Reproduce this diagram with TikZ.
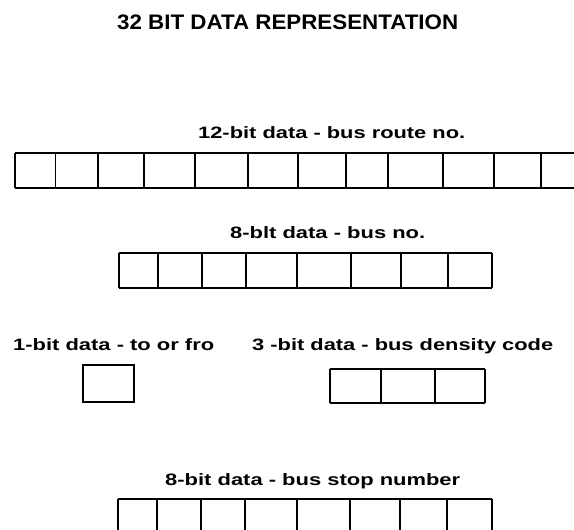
\documentclass[tikz,border=0pt]{standalone}
\usepackage{fontspec}
\setmainfont{Liberation Sans}
\newcommand\fitw[2]{\resizebox{#1}{\height}{#2}}
\begin{document}
\begin{tikzpicture}[x=1pt,y=-1pt,
  grid/.style={draw=black,line width=1.1pt},
  heavy/.style={draw=black,line width=2pt},
  lbl/.style={anchor=base west,inner sep=0pt,font=\bfseries\fontsize{16.5}{18}\selectfont},
  ttl/.style={anchor=base west,inner sep=0pt,font=\bfseries\fontsize{21}{24}\selectfont}]
\useasboundingbox[fill=white] (0,0) rectangle (574,530);

% heading
\node[ttl] (title) at (117,30) {\fitw{341pt}{32 BIT DATA REPRESENTATION}};

% 12-bit field
\node[lbl] (l12) at (198,138) {\fitw{267pt}{12-bit data - bus route no.}};
\draw[grid] (15,153) -- (574,153) (15,188) -- (574,188);
\foreach \x in {15,55.5,98,144,195,248,298,346,388,443,494,541}
  \draw[grid] (\x,153) -- (\x,188);
\draw[heavy] (144,188) -- (248,188) (388,188) -- (443,188);

% 8-bit bus number field
\node[lbl] (l8a) at (230,238) {\fitw{195pt}{8-blt data - bus no.}};
\draw[grid] (119,253) -- (492,253) (119,288) -- (492,288);
\foreach \x in {119,158,202,246,297,351,401,448,492}
  \draw[grid] (\x,253) -- (\x,288);
\draw[heavy] (246,288) -- (351,288);

% 1-bit direction and 3-bit density fields
\node[lbl] (l1) at (13,350) {\fitw{201pt}{1-bit data - to or fro}};
\node[lbl] (l3) at (252,350) {\fitw{301pt}{3 -bit data - bus density code}};
\draw[grid] (83,365) rectangle (134,402);
\draw[grid] (330,369) -- (485,369) (330,403) -- (485,403);
\foreach \x in {330,381,435,485}
  \draw[grid] (\x,369) -- (\x,403);
\draw[heavy] (330,403) -- (435,403);

% 8-bit bus stop field
\node[lbl] (l8b) at (165,485) {\fitw{295pt}{8-bit data - bus stop number}};
\draw[grid] (118,499) -- (492,499);
\foreach \x in {118,157,201,245,297,350,400,447,492}
  \draw[grid] (\x,499) -- (\x,532);
\end{tikzpicture}
\end{document}
